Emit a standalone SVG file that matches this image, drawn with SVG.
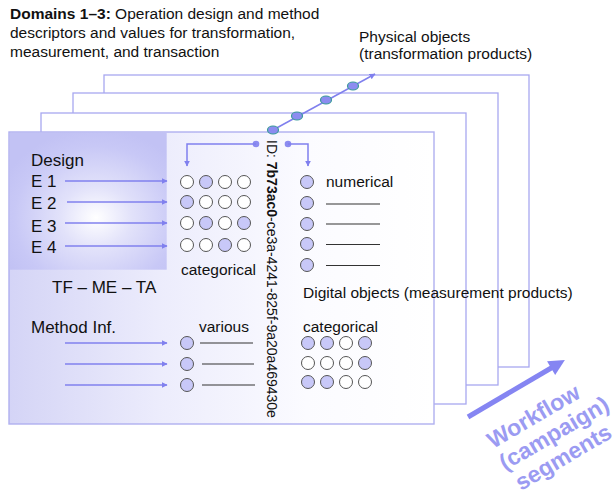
<svg xmlns="http://www.w3.org/2000/svg" width="613" height="497" viewBox="0 0 613 497">
<style>
text{font-family:"Liberation Sans",Arial,sans-serif;fill:#111}
.t155{font-size:15.5px}
.t17{font-size:17px}
.stk{fill:#fff;stroke:#a8a8f0;stroke-width:1.3}
.c0{fill:#fff;stroke:#555;stroke-width:1}
.c1{fill:#c8c8f8;stroke:#555;stroke-width:1}
.ln{stroke:#333;stroke-width:1.2}
.arr{stroke:#8080ee;stroke-width:1.5;fill:none}
.dot{fill:#8c8cf0}
.pd{fill:#8c8cf0;stroke:#3a9a9a;stroke-width:1.2}
.wf{font-size:23px;font-weight:bold;fill:#9b9bf2}
</style>
<defs>
<marker id="ah" viewBox="0 0 10 10" refX="9" refY="5" markerWidth="6" markerHeight="6" markerUnits="userSpaceOnUse" orient="auto">
<path d="M0,0L10,5L0,10z" fill="#8080ee"/>
</marker>
<marker id="ahw" viewBox="0 0 10 10" refX="5" refY="5" markerWidth="18" markerHeight="16" markerUnits="userSpaceOnUse" orient="auto">
<path d="M0,0L10,5L0,10z" fill="#8585f2"/>
</marker>
<linearGradient id="pg" x1="0" y1="0" x2="1" y2="0">
<stop offset="0" stop-color="#d4d4f6"/>
<stop offset="0.35" stop-color="#ececfc"/>
<stop offset="0.7" stop-color="#fbfbff"/>
<stop offset="1" stop-color="#ffffff"/>
</linearGradient>
<radialGradient id="dg" cx="0.55" cy="0.62" r="0.65">
<stop offset="0" stop-color="#ffffff"/>
<stop offset="0.35" stop-color="#e2e2fa"/>
<stop offset="0.8" stop-color="#c8c8f6"/>
<stop offset="1" stop-color="#c2c2f4"/>
</radialGradient>
</defs>
<rect width="613" height="497" fill="#fff"/>

<g id="title">
<text class="t155" x="10" y="19"><tspan font-weight="bold">Domains 1–3:</tspan> Operation design and method</text>
<text class="t155" x="10" y="38">descriptors and values  for transformation,</text>
<text class="t155" x="10" y="57">measurement, and transaction</text>
</g>

<g id="stack">
<rect class="stk" x="104" y="75" width="425" height="292"/>
<rect class="stk" x="73" y="93" width="425" height="292"/>
<rect class="stk" x="41" y="113" width="425" height="291"/>
</g>

<g id="physical-label">
<text class="t155" x="359" y="42">Physical objects</text>
<text class="t155" x="359" y="59">(transformation products)</text>
</g>

<g id="panel">
<rect x="9" y="132" width="425" height="292" fill="url(#pg)" stroke="#b0b0f0" stroke-width="1.4"/>
</g>

<g id="design">
<rect x="9.7" y="132.7" width="157" height="137" fill="url(#dg)"/>
<text class="t17" x="31" y="166">Design</text>
<text class="t17" x="31" y="187">E 1</text>
<text class="t17" x="31" y="209">E 2</text>
<text class="t17" x="31" y="232">E 3</text>
<text class="t17" x="31" y="253">E 4</text>
<text class="t17" x="52" y="293">TF – ME – TA</text>
</g>

<g id="categorical-design">
<circle class="c0" cx="187" cy="182" r="6.5"/><circle class="c1" cx="206" cy="182" r="6.5"/><circle class="c0" cx="225" cy="182" r="6.5"/><circle class="c0" cx="244" cy="182" r="6.5"/>
<circle class="c1" cx="187" cy="202" r="6.5"/><circle class="c0" cx="206" cy="202" r="6.5"/><circle class="c0" cx="225" cy="202" r="6.5"/><circle class="c0" cx="244" cy="202" r="6.5"/>
<circle class="c0" cx="187" cy="223" r="6.5"/><circle class="c1" cx="206" cy="223" r="6.5"/><circle class="c0" cx="225" cy="223" r="6.5"/><circle class="c1" cx="244" cy="223" r="6.5"/>
<circle class="c0" cx="187" cy="245" r="6.5"/><circle class="c0" cx="206" cy="245" r="6.5"/><circle class="c1" cx="225" cy="245" r="6.5"/><circle class="c0" cx="244" cy="245" r="6.5"/>
<text class="t155" x="181" y="275">categorical</text>
</g>

<g id="id-label">
<text font-size="14" transform="translate(267,140) rotate(90)">ID: <tspan font-weight="bold">7b73ac0</tspan>-ce3a-4241-825f-9a20a469430e</text>
</g>

<g id="numerical">
<circle class="c1" cx="307" cy="182" r="6.5"/>
<circle class="c1" cx="307" cy="203" r="6.5"/>
<circle class="c1" cx="307" cy="224" r="6.5"/>
<circle class="c1" cx="307" cy="244" r="6.5"/>
<circle class="c1" cx="307" cy="265" r="6.5"/>
<text class="t155" x="326" y="187">numerical</text>
<line class="ln" x1="326" y1="204" x2="380" y2="204"/>
<line class="ln" x1="326" y1="224" x2="380" y2="224"/>
<line class="ln" x1="326" y1="244.5" x2="380" y2="244.5"/>
<line class="ln" x1="326" y1="265.5" x2="380" y2="265.5"/>
</g>

<g id="digital-label">
<text class="t155" x="303" y="298">Digital objects (measurement products)</text>
</g>

<g id="categorical-digital">
<text class="t155" x="303" y="332">categorical</text>
<circle class="c1" cx="308" cy="343" r="6.5"/><circle class="c1" cx="327" cy="343" r="6.5"/><circle class="c0" cx="346" cy="343" r="6.5"/><circle class="c1" cx="365" cy="343" r="6.5"/>
<circle class="c0" cx="308" cy="363" r="6.5"/><circle class="c0" cx="327" cy="363" r="6.5"/><circle class="c0" cx="346" cy="363" r="6.5"/><circle class="c1" cx="365" cy="363" r="6.5"/>
<circle class="c1" cx="308" cy="382" r="6.5"/><circle class="c1" cx="327" cy="382" r="6.5"/><circle class="c0" cx="346" cy="382" r="6.5"/><circle class="c0" cx="365" cy="382" r="6.5"/>
</g>

<g id="method">
<text class="t17" x="31" y="333">Method Inf.</text>
<text class="t155" x="199" y="332">various</text>
<circle class="c1" cx="187" cy="343" r="6.5"/>
<circle class="c1" cx="187" cy="364" r="6.5"/>
<circle class="c1" cx="187" cy="385" r="6.5"/>
<line class="ln" x1="200" y1="343" x2="253" y2="343"/>
<line class="ln" x1="202" y1="364" x2="254" y2="364"/>
<line class="ln" x1="202" y1="385" x2="255" y2="385"/>
</g>

<g id="workflow">
<text class="wf" transform="translate(493,449) rotate(-30.4)">Workflow</text>
<text class="wf" transform="translate(505,471) rotate(-30.4)">(campaign)</text>
<text class="wf" transform="translate(521,491) rotate(-30.4)">segments</text>
</g>

<g id="connectors">
<line class="arr" x1="65" y1="181" x2="167" y2="181" marker-end="url(#ah)"/>
<line class="arr" x1="67" y1="202" x2="167" y2="202" marker-end="url(#ah)"/>
<line class="arr" x1="65" y1="223" x2="167" y2="223" marker-end="url(#ah)"/>
<line class="arr" x1="65" y1="246" x2="167" y2="246" marker-end="url(#ah)"/>
<line class="arr" x1="65" y1="343" x2="167" y2="343" marker-end="url(#ah)"/>
<line class="arr" x1="65" y1="364" x2="167" y2="364" marker-end="url(#ah)"/>
<line class="arr" x1="65" y1="385" x2="167" y2="385" marker-end="url(#ah)"/>
<circle class="dot" cx="256" cy="144" r="3.3"/>
<polyline class="arr" points="256,144 187,144 187,166" marker-end="url(#ah)"/>
<circle class="dot" cx="288" cy="144" r="3.3"/>
<polyline class="arr" points="288,144 308,144 308,166" marker-end="url(#ah)"/>
<line class="arr" x1="273" y1="130" x2="375" y2="74" marker-end="url(#ah)"/>
<ellipse class="pd" cx="273" cy="130" rx="5.5" ry="4"/>
<ellipse class="pd" cx="297" cy="116" rx="5.5" ry="4"/>
<ellipse class="pd" cx="326" cy="100" rx="5.5" ry="4"/>
<ellipse class="pd" cx="353" cy="86" rx="5.5" ry="4"/>
<line x1="468" y1="417" x2="558" y2="364" stroke="#8585f2" stroke-width="5" marker-end="url(#ahw)"/>
</g>
</svg>
